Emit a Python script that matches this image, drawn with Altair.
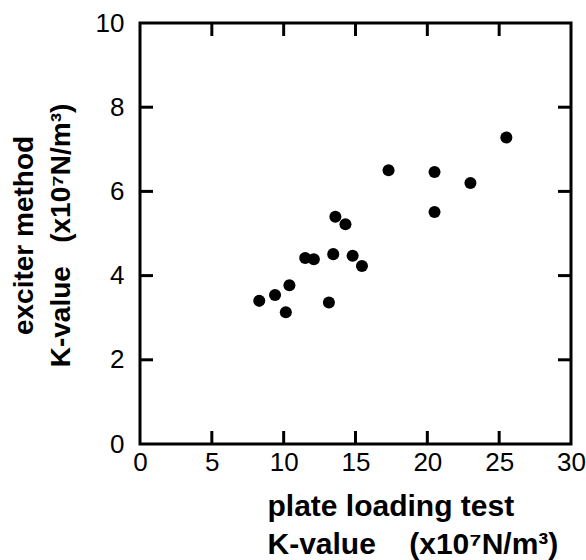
import altair as alt
import pandas as pd

# plate loading test K-value (x10^7 N/m^3)
plate_k = [25.5, 17.3, 20.5, 23.0, 20.5, 13.6, 14.3, 11.5, 12.1, 13.45, 14.8, 15.45,
           8.3, 9.4, 10.4, 10.15, 13.15]
# exciter method K-value (x10^7 N/m^3)
exciter_k = [7.28, 6.50, 6.46, 6.20, 5.51, 5.40, 5.22, 4.42, 4.39, 4.51, 4.47, 4.23,
             3.40, 3.54, 3.77, 3.13, 3.36]

x_ticks = [0, 5, 10, 15, 20, 25, 30]
y_ticks = [0, 2, 4, 6, 8, 10]
x_inner = [5, 10, 15, 20, 25]
y_inner = [2, 4, 6, 8]

W, H = 431, 421
FONT = "Liberation Sans"
NB = "\u00a0"

df = pd.DataFrame({"plate": plate_k, "exciter": exciter_k})
dfx = pd.DataFrame({"plate": x_inner})
dfy = pd.DataFrame({"exciter": y_inner})

xscale = alt.Scale(domain=[0, 30], nice=False, zero=False)
yscale = alt.Scale(domain=[0, 10], nice=False, zero=False)

xaxis = alt.Axis(
    values=x_ticks, domain=False, ticks=False, grid=False,
    labelFont=FONT, labelFontSize=26, labelColor="black", labelPadding=5,
    labelFlush=False,
    title=["plate loading test", "K-value" + NB * 4 + "(x10\u2077N/m\u00b3)"],
    titleFont=FONT, titleFontSize=30, titleFontWeight="bold", titleColor="black",
    titleAlign="left", titleAnchor="start", titleX=127, titleY=71,
    titleBaseline="alphabetic", titleLineHeight=38)
yaxis = alt.Axis(
    values=y_ticks, domain=False, ticks=False, grid=False,
    labelFont=FONT, labelFontSize=26, labelColor="black", labelPadding=16,
    labelFlush=False,
    title=["exciter method", "K-value" + NB * 3 + "(x10\u2077N/m\u00b3)"],
    titleFont=FONT, titleFontSize=28, titleFontWeight="bold", titleColor="black",
    titleAngle=270, titleAlign="center", titleX=-108, titleY=212,
    titleBaseline="alphabetic", titleLineHeight=37)

X = alt.X("plate:Q", scale=xscale, axis=xaxis)
Y = alt.Y("exciter:Q", scale=yscale, axis=yaxis)

points = alt.Chart(df).mark_circle(size=145, color="black", opacity=1).encode(x=X, y=Y)

tick_len = 13
bottom_ticks = alt.Chart(dfx).mark_rule(color="black", strokeWidth=3).encode(
    x=X, y=alt.value(H), y2=alt.value(H - tick_len))
top_ticks = alt.Chart(dfx).mark_rule(color="black", strokeWidth=3).encode(
    x=X, y=alt.value(0), y2=alt.value(tick_len))
left_ticks = alt.Chart(dfy).mark_rule(color="black", strokeWidth=3).encode(
    y=Y, x=alt.value(0), x2=alt.value(tick_len))
right_ticks = alt.Chart(dfy).mark_rule(color="black", strokeWidth=3).encode(
    y=Y, x=alt.value(W), x2=alt.value(W - tick_len))

chart = alt.layer(points, bottom_ticks, top_ticks, left_ticks, right_ticks).properties(
    width=W, height=H,
    autosize=alt.AutoSizeParams(type="none"),
    padding={"left": 140, "top": 23, "right": 15, "bottom": 116},
    background="white",
).configure_view(stroke="black", strokeWidth=3)

chart.save("out.html", embed_options={"renderer": "svg", "actions": False})
